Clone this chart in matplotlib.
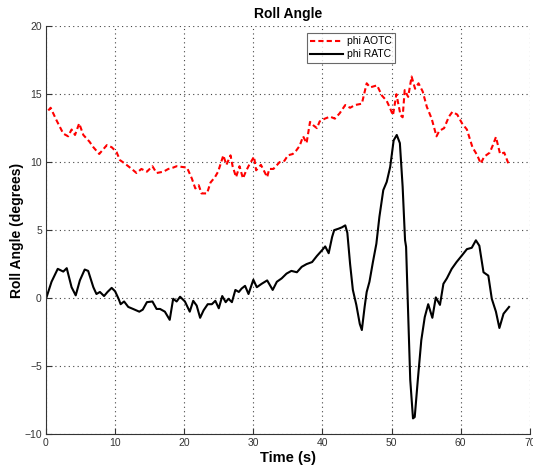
import numpy as np
import matplotlib.pyplot as plt

# roll angle, AOTC controller
t_aotc = [0.33, 0.67, 1.5, 2.5, 3.2, 3.7, 4.2, 4.8, 5.4, 6.3, 6.85, 7.7, 8.8, 9.5, 10.2, 10.7,
          11.4, 12.4, 13.1, 13.8, 14.6, 15.4, 16.0, 17.0, 17.7, 18.4, 18.9, 20.4, 21.1, 21.6,
          22.1, 22.5, 23.3, 23.8, 24.45, 24.9, 25.66, 26.1, 26.7, 27.0, 27.5, 28.0, 28.5, 28.9,
          29.4, 30.1, 30.4, 31.1, 32.0, 32.3, 32.9, 33.8, 34.5, 35.0, 35.7, 36.2, 36.7, 37.2,
          37.7, 38.2, 38.7, 39.2, 39.6, 40.35, 41.1, 41.8, 42.5, 43.3, 44.0, 44.7, 45.7, 46.4,
          46.9, 47.9, 48.6, 49.3, 49.8, 50.2, 50.7, 51.3, 51.6, 51.9, 52.4, 52.9, 53.4, 53.9,
          54.5, 55.1, 55.8, 56.5, 56.9, 57.6, 58.3, 58.8, 59.5, 60.2, 60.9, 61.7, 62.4, 62.9,
          63.4, 64.2, 64.7, 65.1, 65.7, 66.3, 66.9]
phi_aotc = [13.8, 14.0, 13.1, 12.1, 11.9, 12.4, 12.0, 12.85, 12.0, 11.5, 11.1, 10.6, 11.25, 11.1,
            10.75, 10.15, 9.9, 9.5, 9.2, 9.5, 9.3, 9.7, 9.2, 9.3, 9.5, 9.6, 9.7, 9.6, 8.8, 8.07,
            8.3, 7.7, 7.7, 8.5, 8.9, 9.3, 10.5, 9.8, 10.5, 9.7, 8.9, 9.7, 8.8, 9.3,
            9.8, 10.4, 9.4, 9.8, 8.9, 9.5, 9.5, 10.0, 10.1, 10.5, 10.6, 10.85, 11.2, 11.9,
            11.4, 12.96, 12.7, 12.5, 13.0, 13.2, 13.35, 13.2, 13.6, 14.2, 14.0, 14.2, 14.3, 15.8,
            15.5, 15.65, 14.9, 14.5, 13.95, 13.45, 15.0, 13.45, 13.3, 15.3, 14.8, 16.3, 15.4, 15.8,
            15.2, 14.07, 13.2, 11.9, 12.3, 12.5, 13.35, 13.7, 13.5, 12.85, 12.4, 11.1, 10.5, 9.9,
            10.4, 10.7, 11.3, 11.85, 10.6, 10.7, 9.9]

# roll angle, RATC controller
t_ratc = [0.1, 0.8, 1.7, 2.5, 3.0, 3.7, 4.3, 4.9, 5.6, 6.1, 6.85, 7.3, 7.8, 8.4, 8.9, 9.5, 10.0,
          10.5, 10.8, 11.3, 11.9, 12.6, 13.5, 14.0, 14.6, 15.4, 16.0, 16.5, 17.2, 17.9, 18.4,
          18.9, 19.4, 20.1, 20.8, 21.3, 21.8, 22.3, 22.8, 23.4, 24.0, 24.5, 25.0, 25.5, 26.0,
          26.4, 26.9, 27.4, 27.9, 28.3, 28.8, 29.3, 30.0, 30.5, 31.2, 32.0, 32.8, 33.4, 34.1,
          34.8, 35.5, 36.3, 37.0, 37.7, 38.5, 39.2, 39.9, 40.4, 40.9, 41.4, 41.7, 42.3, 42.8,
          43.3, 43.6, 44.0, 44.4, 44.9, 45.4, 45.7, 46.1, 46.4, 46.8, 47.3, 47.8, 48.24, 48.8,
          49.3, 49.8, 50.3, 50.75, 51.2, 51.6, 51.95, 52.1, 52.4, 52.7, 53.1, 53.35, 53.8, 54.3,
          54.8, 55.3, 55.9, 56.4, 57.0, 57.5, 58.0, 58.7, 59.4, 60.2, 60.9, 61.6, 62.2, 62.7,
          63.3, 64.0, 64.5, 65.1, 65.6, 66.2, 67.0]
phi_ratc = [0.1, 1.2, 2.15, 1.95, 2.2, 0.8, 0.2, 1.3, 2.1, 2.0, 0.8, 0.3, 0.45, 0.15, 0.45, 0.75,
            0.5, -0.05, -0.45, -0.25, -0.65, -0.8, -1.0, -0.85, -0.3, -0.25, -0.8, -0.8, -1.0,
            -1.6, -0.05, -0.25, 0.1, -0.25, -1.0, -0.2, -0.55, -1.45, -0.9, -0.45, -0.45, -0.2,
            -0.75, 0.15, -0.3, -0.05, -0.3, 0.6, 0.45, 0.7, 0.9, 0.3, 1.35, 0.8, 1.05, 1.3, 0.6,
            1.2, 1.45, 1.8, 2.0, 1.9, 2.3, 2.5, 2.65, 3.1, 3.5, 3.8, 3.3, 4.5, 5.0, 5.1, 5.2,
            5.35, 4.8, 2.5, 0.6, -0.5, -1.9, -2.35, -0.65, 0.45, 1.2, 2.65, 4.0, 5.98, 7.94,
            8.55, 9.65, 11.6, 12.0, 11.4, 8.2, 4.26, 3.77, -1.15, -6.0, -8.85, -8.75, -6.0,
            -3.1, -1.4, -0.45, -1.45, 0.05, -0.5, 1.05, 1.45, 2.15, 2.65, 3.15, 3.6, 3.7, 4.25,
            3.85, 1.9, 1.65, -0.05, -1.0, -2.2, -1.15, -0.65]

plt.rcParams['font.family'] = ['Liberation Sans', 'DejaVu Sans']

fig = plt.figure(figsize=(5.33, 4.68), dpi=100)
ax = fig.add_axes([0.0863, 0.0726, 0.9077, 0.8714])

ax.plot(t_aotc, phi_aotc, color='red', linestyle='--', linewidth=1.5, dashes=(2.5, 1.5), label='phi AOTC')
ax.plot(t_ratc, phi_ratc, color='black', linestyle='-', linewidth=1.5, label='phi RATC')

ax.set_xlim(0, 70)
ax.set_ylim(-10, 20)
ax.set_xticks(np.arange(0, 71, 10))
ax.set_yticks(np.arange(-10, 21, 5))
ax.grid(True, linestyle=(0, (1, 3)), color='#444444', linewidth=0.8)
ax.tick_params(direction='in', length=4, labelsize=7.5, colors='#333333', pad=3)

for side in ['top', 'right']:
    ax.spines[side].set_visible(False)
for side in ['left', 'bottom']:
    ax.spines[side].set_color('#333333')

ax.set_title('Roll Angle', fontsize=10, fontweight='bold', pad=6)
ax.set_xlabel('Time (s)', fontsize=10.5, fontweight='bold', labelpad=2)
ax.set_ylabel('Roll Angle (degrees)', fontsize=10, fontweight='bold')
ax.yaxis.set_label_coords(-0.046, 0.5)

leg = ax.legend(loc='upper left', bbox_to_anchor=(0.539, 0.983), borderaxespad=0,
                fontsize=7.5, frameon=True, fancybox=False, edgecolor='#444444',
                borderpad=0.3, handlelength=3.2, labelspacing=0.3, handletextpad=0.4)
leg.get_frame().set_linewidth(0.8)

fig.savefig('out.png', dpi=100)
